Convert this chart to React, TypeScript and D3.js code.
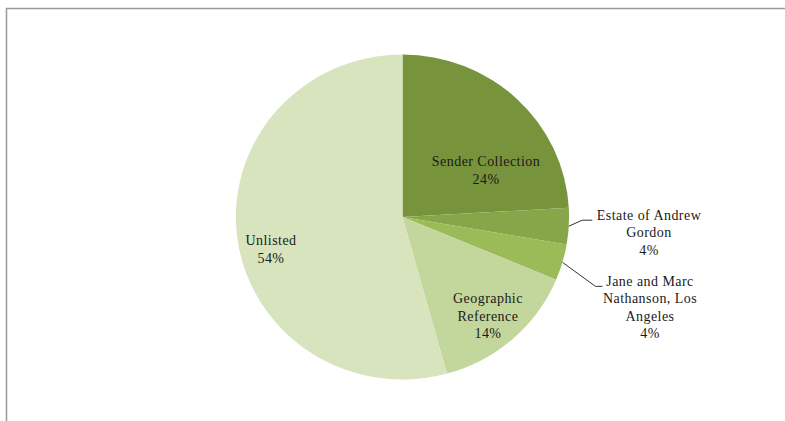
import React from "react";
import * as d3 from "d3";

const categories = [
  "Sender Collection",
  "Estate of Andrew Gordon",
  "Jane and Marc Nathanson, Los Angeles",
  "Geographic Reference",
  "Unlisted",
];
const values = [24.1, 3.6, 3.6, 14.4, 54.3];
const labelLines = [
  ["Sender Collection"],
  ["Estate of Andrew", "Gordon"],
  ["Jane and Marc", "Nathanson, Los", "Angeles"],
  ["Geographic", "Reference"],
  ["Unlisted"],
];
const colors = ["#77933c", "#87a64a", "#9bbb59", "#c3d69b", "#d7e4bd"];

const W = 785;
const H = 421;
const cx = 402.5;
const cy = 217;
const R = 162.5;
const SX = 1.025; // slight horizontal stretch seen in the reference
const FS = 14;
const LS = 0.45;
const LH = 17.5;

// label placement style: inside labels via polar (angle deg, radius frac), outside via leader
const labelStyle = [
  { kind: "in", ang: 60.6, rf: 0.59 },
  { kind: "out", elbowDx: 13.5, elbowDy: -6, run: 10, tx: 649 },
  { kind: "out", elbowDx: 33, elbowDy: 24, run: 7, tx: 650 },
  { kind: "in", ang: 139.2, rf: 0.805 },
  { kind: "in", ang: 256.3, rf: 0.833 },
];

export default function App() {
  const pie = d3
    .pie<number>()
    .sort(null)
    .value((d) => d)
    .startAngle(0)
    .endAngle(2 * Math.PI);
  const arcs = pie(values);
  const arc = d3.arc<d3.PieArcDatum<number>>().innerRadius(0).outerRadius(R);
  const total = d3.sum(values);

  const textProps = {
    textAnchor: "middle" as const,
    fontFamily: "'Liberation Serif', 'Times New Roman', serif",
    fontSize: FS,
    letterSpacing: LS,
    fill: "#1a1a1a",
  };

  return (
    <div style={{ position: "absolute", left: 0, top: 0 }}>
      <svg width={W} height={H} style={{ display: "block", background: "#fff" }}>
        <path d={`M6.5,${H + 2}V8.5H${W + 2}`} fill="none" stroke="#9a9a9a" strokeWidth={1.5} />
        <g transform={`translate(${cx},${cy}) scale(${SX},1)`}>
          {arcs.map((a, i) => (
            <path key={i} d={arc(a) || ""} fill={colors[i]} />
          ))}
        </g>
        {arcs.map((a, i) => {
          const st = labelStyle[i];
          const pct = `${Math.round((values[i] / total) * 100)}%`;
          const lines = [...labelLines[i], pct];
          if (st.kind === "in") {
            const t = ((st.ang as number) * Math.PI) / 180;
            const r = (st.rf as number) * R;
            const x = cx + r * Math.sin(t);
            const y = cy - r * Math.cos(t);
            const y0 = y - ((lines.length - 1) * LH) / 2;
            return (
              <text key={i} {...textProps}>
                {lines.map((l, k) => (
                  <tspan key={k} x={x} y={y0 + k * LH} dy="0.35em">
                    {l}
                  </tspan>
                ))}
              </text>
            );
          }
          const mid = (a.startAngle + a.endAngle) / 2;
          const px = cx + R * SX * Math.sin(mid);
          const py = cy - R * Math.cos(mid);
          const ex = px + (st.elbowDx as number);
          const ey = py + (st.elbowDy as number);
          const hx = ex + (st.run as number);
          const y0 = ey - LH * 0.3;
          return (
            <g key={i}>
              <path
                d={`M${px},${py}L${ex},${ey}H${hx}`}
                fill="none"
                stroke="#333"
                strokeWidth={1}
              />
              <text {...textProps}>
                {lines.map((l, k) => (
                  <tspan key={k} x={st.tx as number} y={y0 + k * LH} dy="0.35em">
                    {l}
                  </tspan>
                ))}
              </text>
            </g>
          );
        })}
      </svg>
    </div>
  );
}
